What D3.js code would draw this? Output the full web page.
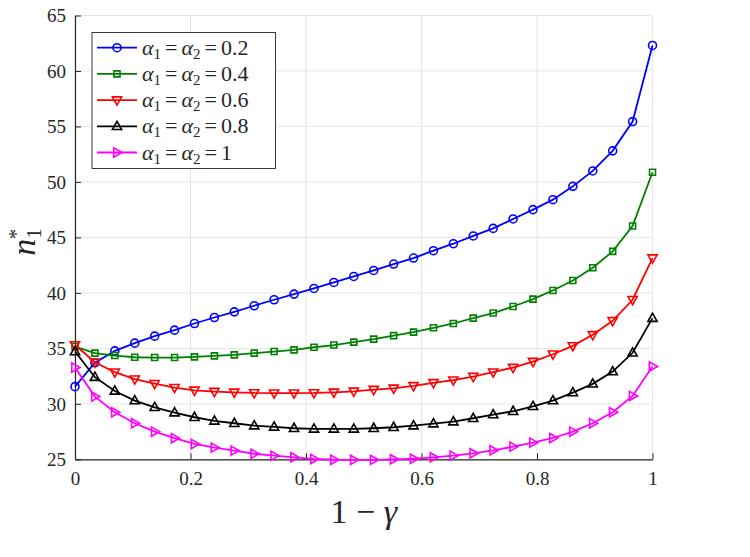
<!DOCTYPE html>
<html>
<head>
<meta charset="utf-8">
<script src="https://cdn.jsdelivr.net/npm/d3@7"></script>
<style>
  body { margin: 0; background: #fff; }
  svg text { font-family: "Liberation Serif", "DejaVu Serif", serif; fill: #262626; }
</style>
</head>
<body>
<script>
var width = 750,
	height = 557;

// x positions: 30 points on [0, 1]
var xs = d3.range(30).map(function(i){ return i / 29; });

var alpha02 = [31.55, 33.7, 34.77, 35.47, 36.1, 36.64, 37.24, 37.78, 38.29, 38.84,
	39.38, 39.89, 40.4, 40.94, 41.48, 42.02, 42.6, 43.14, 43.8, 44.43,
	45.13, 45.81, 46.66, 47.5, 48.4, 49.6, 50.99, 52.8, 55.44, 62.3];
var alpha04 = [35.16, 34.57, 34.35, 34.2, 34.17, 34.17, 34.23, 34.32, 34.41, 34.57,
	34.71, 34.86, 35.1, 35.3, 35.56, 35.83, 36.15, 36.46, 36.85, 37.24,
	37.72, 38.18, 38.77, 39.44, 40.22, 41.12, 42.27, 43.74, 46.03, 50.87];
var alpha06 = [35.3, 33.75, 32.85, 32.22, 31.82, 31.46, 31.22, 31.1, 31.04, 30.98,
	30.96, 30.96, 30.98, 31.04, 31.13, 31.28, 31.4, 31.62, 31.89, 32.13,
	32.46, 32.85, 33.27, 33.81, 34.47, 35.22, 36.22, 37.48, 39.38, 43.14];
var alpha08 = [34.71, 32.4, 31.16, 30.29, 29.69, 29.2, 28.79, 28.46, 28.25, 28.03,
	27.92, 27.8, 27.74, 27.74, 27.74, 27.8, 27.89, 28.03, 28.21, 28.39,
	28.7, 29.03, 29.33, 29.78, 30.29, 31.01, 31.8, 32.91, 34.6, 37.72];
var alpha1 = [33.27, 30.65, 29.24, 28.25, 27.49, 26.9, 26.38, 26.05, 25.78, 25.5,
	25.33, 25.18, 25.03, 24.96, 24.95, 24.95, 25.0, 25.05, 25.18, 25.33,
	25.54, 25.81, 26.14, 26.5, 26.92, 27.49, 28.25, 29.24, 30.71, 33.36];

var legendValues = ["0.2", "0.4", "0.6", "0.8", "1"];
var xTicks = [0, 0.2, 0.4, 0.6, 0.8, 1];
var yTicks = [25, 30, 35, 40, 45, 50, 55, 60, 65];

var series = [
	{vals: alpha02, color: "#0000ff", marker: "circle"},
	{vals: alpha04, color: "#008000", marker: "square"},
	{vals: alpha06, color: "#ff0000", marker: "tridown"},
	{vals: alpha08, color: "#000000", marker: "triup"},
	{vals: alpha1, color: "#ff00ff", marker: "triright"}
];

var margin = {left: 75, right: 97.5, top: 15.5, bottom: 97.7};
var w = width - margin.left - margin.right,
	h = height - margin.top - margin.bottom;

var svg = d3.select("body").append("svg")
	.attr("width", width)
	.attr("height", height);

var g = svg.append("g")
	.attr("transform", "translate(" + margin.left + "," + margin.top + ")");

var x = d3.scaleLinear().domain([0, 1]).range([0, w]);
var y = d3.scaleLinear().domain([25, 65]).range([h, 0]);

// grid
g.append("g").selectAll("line").data(xTicks).enter().append("line")
	.attr("x1", function(d){ return x(d); }).attr("x2", function(d){ return x(d); })
	.attr("y1", 0).attr("y2", h)
	.attr("stroke", "#e6e6e6").attr("stroke-width", 1);
g.append("g").selectAll("line").data(yTicks).enter().append("line")
	.attr("y1", function(d){ return y(d); }).attr("y2", function(d){ return y(d); })
	.attr("x1", 0).attr("x2", w)
	.attr("stroke", "#e6e6e6").attr("stroke-width", 1);

// axes
var xAxis = g.append("g").attr("transform", "translate(0," + h + ")")
	.call(d3.axisBottom(x).tickValues(xTicks).tickSizeInner(-6).tickSizeOuter(0)
		.tickFormat(function(d){ return d === 0 || d === 1 ? d : d.toFixed(1); }));
var yAxis = g.append("g")
	.call(d3.axisLeft(y).tickValues(yTicks).tickSizeInner(-6).tickSizeOuter(0));

[xAxis, yAxis].forEach(function(a){
	a.attr("font-family", null).attr("font-size", null);
	a.select(".domain").attr("stroke", "#262626").attr("stroke-width", 1.2);
	a.selectAll(".tick line").attr("stroke", "#262626");
	a.selectAll(".tick text").style("font-size", "19px").attr("fill", "#262626");
});
xAxis.selectAll(".tick text").attr("y", 12).attr("dy", "0.71em");
yAxis.selectAll(".tick text").attr("x", -9).attr("dy", "0.34em");

// lines and markers
var line = d3.line()
	.x(function(d, i){ return x(xs[i]); })
	.y(function(d){ return y(d); });

function markerPath(type) {
	if (type === "circle") return d3.symbol().type(d3.symbolCircle).size(50)();
	if (type === "square") return "M-3,-3H3V3H-3Z";
	if (type === "triup") return "M0,-5L4.6,3.2L-4.6,3.2Z";
	if (type === "tridown") return "M0,5L4.6,-3.2L-4.6,-3.2Z";
	if (type === "triright") return "M5,0L-3.2,4.6L-3.2,-4.6Z";
}

series.forEach(function(s){
	g.append("path")
		.datum(s.vals)
		.attr("fill", "none")
		.attr("stroke", s.color)
		.attr("stroke-width", 1.8)
		.attr("d", line);
	g.append("g").selectAll("path").data(s.vals).enter().append("path")
		.attr("transform", function(d, i){ return "translate(" + x(xs[i]) + "," + y(d) + ")"; })
		.attr("d", markerPath(s.marker))
		.attr("fill", "none")
		.attr("stroke", s.color)
		.attr("stroke-width", 1.6);
});

// legend
var legend = svg.append("g").attr("transform", "translate(92,32.5)");
legend.append("rect")
	.attr("width", 183.5).attr("height", 136)
	.attr("fill", "#fff").attr("stroke", "#262626").attr("stroke-width", 0.9);

var items = legend.selectAll(".item").data(series).enter().append("g")
	.attr("class", "item")
	.attr("transform", function(d, i){ return "translate(0," + (15.2 + i * 26.2) + ")"; });
items.append("line")
	.attr("x1", 5).attr("x2", 45)
	.attr("stroke", function(d){ return d.color; })
	.attr("stroke-width", 1.8);
items.append("path")
	.attr("transform", "translate(25,0)")
	.attr("d", function(d){ return markerPath(d.marker); })
	.attr("fill", "none")
	.attr("stroke", function(d){ return d.color; })
	.attr("stroke-width", 1.6);

var lt = items.append("text")
	.attr("x", 50).attr("y", 7)
	.style("font-size", "22px");
lt.append("tspan").attr("font-style", "italic").text("α");
lt.append("tspan").style("font-size", "15px").attr("dy", 4).text("1");
lt.append("tspan").attr("dy", -4).attr("dx", 4).text("=");
lt.append("tspan").attr("dx", 4).attr("font-style", "italic").text("α");
lt.append("tspan").style("font-size", "15px").attr("dy", 4).text("2");
lt.append("tspan").attr("dy", -4).attr("dx", 4).text("=");
lt.append("tspan").attr("dx", 4).text(function(d, i){ return legendValues[i]; });

// axis labels
var xl = svg.append("text")
	.attr("x", margin.left + w / 2).attr("y", 523)
	.attr("text-anchor", "middle")
	.style("font-size", "34px");
xl.append("tspan").text("1 − ");
xl.append("tspan").attr("font-style", "italic").text("γ");

var yl = svg.append("text")
	.attr("transform", "translate(35,242) rotate(-90)")
	.attr("text-anchor", "middle")
	.style("font-size", "34px");
yl.append("tspan").attr("font-style", "italic").text("n");
yl.append("tspan").style("font-size", "21px").attr("dy", 6).text("1");
yl.append("tspan").style("font-size", "21px").attr("dx", -11).attr("dy", -18).text("*");
</script>
</body>
</html>
